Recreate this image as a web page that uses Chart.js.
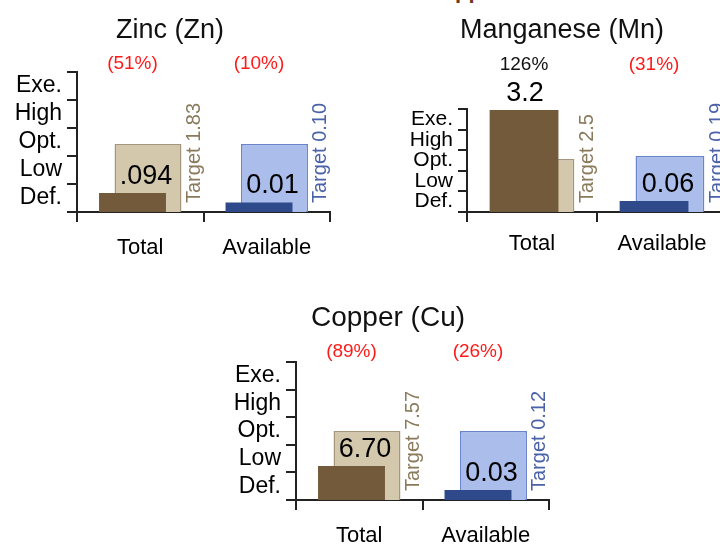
<!DOCTYPE html>
<html>
<head>
<meta charset="utf-8">
<script src="https://cdn.jsdelivr.net/npm/chart.js@4.4.1/dist/chart.umd.min.js"></script>
<style>
  html, body { margin: 0; padding: 0; background: #fff; }
  body { width: 720px; height: 544px; position: relative; overflow: hidden; }
  canvas { position: absolute; }
  .cut { position: absolute; left: 455px; top: -22px; font: bold 22px "Liberation Sans", Arial, sans-serif; color: #6e3a1c; }
</style>
</head>
<body>
<div class="cut">pp</div>
<canvas id="zn" width="360" height="270" style="left:0px;top:0px"></canvas>
<canvas id="mn" width="380" height="270" style="left:360px;top:0px"></canvas>
<canvas id="cu" width="360" height="254" style="left:200px;top:290px"></canvas>
<script>
// levels on the y axis (top to bottom) and the two x categories
const levels = ["Exe.", "High", "Opt.", "Low", "Def."];
const categories = ["Total", "Available"];

// bar heights in level units (0 = bottom of Def., 5 = top of Exe.)
const znMeasured = [0.68, 0.34];
const znTarget = [2.43, 2.43];
const znValues = [".094", "0.01"];
const znTargets = ["1.83", "0.10"];
const znPct = [51, 10];

const mnMeasured = [4.95, 0.53];
const mnTarget = [2.57, 2.72];
const mnValues = ["3.2", "0.06"];
const mnTargets = ["2.5", "0.19"];
const mnPct = [126, 31];

const cuMeasured = [1.23, 0.36];
const cuTarget = [2.5, 2.5];
const cuValues = ["6.70", "0.03"];
const cuTargets = ["7.57", "0.12"];
const cuPct = [89, 26];

const FONT = '"Liberation Sans", Arial, sans-serif';
Chart.defaults.font.family = FONT;

const annotate = {
  id: "annotate",
  afterDraw(chart, args, opts) {
    const ctx = chart.ctx;
    const bottom = chart.chartArea.bottom;
    const meas = chart.getDatasetMeta(0).data;
    const targ = chart.getDatasetMeta(1).data;
    ctx.save();
    ctx.textAlign = "center";
    ctx.textBaseline = "alphabetic";
    ctx.fillStyle = "#111";
    ctx.font = opts.titleSize + "px " + FONT;
    ctx.fillText(opts.title, opts.titleX, opts.titleY);
    meas.forEach((bar, i) => {
      const t = targ[i];
      const p = opts.pct[i];
      ctx.font = "19px " + FONT;
      ctx.fillStyle = p < 100 ? "#ff1a1a" : "#111";
      ctx.fillText(p < 100 ? "(" + p + "%)" : p + "%", bar.x, opts.pctY);

      ctx.font = "27px " + FONT;
      ctx.fillStyle = "#000";
      const vx = bar.y < t.y ? bar.x + 1 : t.x - 2;
      ctx.fillText(opts.values[i], vx, bar.y - 9);

      ctx.save();
      ctx.translate(t.x + t.width / 2 + 13, bottom - 9);
      ctx.rotate(-Math.PI / 2);
      ctx.textAlign = "left";
      ctx.textBaseline = "middle";
      ctx.font = "20px " + FONT;
      ctx.fillStyle = i === 0 ? "#8a7a5c" : "#4b62a9";
      ctx.fillText("Target " + opts.targets[i], 0, 0);
      ctx.restore();
    });
    ctx.restore();
  }
};

function makeChart(id, measured, target, values, targets, pct, st) {
  return new Chart(document.getElementById(id), {
    type: "bar",
    data: {
      labels: categories,
      datasets: [
        {
          label: "Measured",
          data: measured,
          backgroundColor: ["#735a3a", "#2f4a8a"],
          borderWidth: 0,
          categoryPercentage: 0.245,
          barPercentage: 4.32,
        },
        {
          label: "Target",
          data: target,
          backgroundColor: ["#d3c8ab", "#aabdeb"],
          borderColor: ["#a5957a", "#6a84cc"],
          borderWidth: 1.5,
          categoryPercentage: 0.245,
          barPercentage: 4.32,
        },
      ],
    },
    options: {
      responsive: false,
      animation: false,
      layout: { padding: st.pad },
      plugins: {
        legend: { display: false },
        tooltip: { enabled: false },
        annotate: {
          title: st.title, titleSize: st.titleSize, titleX: st.titleX, titleY: st.titleY,
          pctY: st.pctY, values: values, targets: targets, pct: pct,
        },
      },
      scales: {
        x: {
          type: "category",
          offset: true,
          grid: { offset: true, drawOnChartArea: false, tickLength: 10, color: "#222", lineWidth: 2 },
          border: { color: "#222", width: 2 },
          ticks: { font: { size: 22 }, color: "#000", padding: st.xPad, maxRotation: 0, autoSkip: false },
          afterFit: (s) => { s.height = st.xHeight; },
        },
        y: { type: "linear", min: 0, max: 5, display: false },
        yLev: {
          type: "category",
          labels: levels,
          position: "left",
          offset: true,
          grid: { offset: true, drawOnChartArea: false, tickLength: st.tickLen, color: "#222", lineWidth: 2 },
          border: { color: "#222", width: 2 },
          ticks: { font: { size: st.levelFont }, color: "#000", padding: 5, autoSkip: false },
          afterFit: (s) => { s.width = 70; },
        },
      },
    },
    plugins: [annotate],
  });
}

makeChart("zn", znMeasured, znTarget, znValues, znTargets, znPct, {
  pad: { left: 7, top: 72, right: 30, bottom: 8 }, xHeight: 50,
  title: "Zinc (Zn)", titleSize: 27, titleX: 170, titleY: 38, pctY: 69,
  levelFont: 23, tickLen: 10, xPad: 13,
});

makeChart("mn", mnMeasured, mnTarget, mnValues, mnTargets, mnPct, {
  pad: { left: 37, top: 109, right: 13, bottom: 8 }, xHeight: 50,
  title: "Manganese (Mn)", titleSize: 27, titleX: 202, titleY: 37.5, pctY: 70,
  levelFont: 21, tickLen: 9, xPad: 9,
});

makeChart("cu", cuMeasured, cuTarget, cuValues, cuTargets, cuPct, {
  pad: { left: 26, top: 72, right: 11, bottom: 0 }, xHeight: 44,
  title: "Copper (Cu)", titleSize: 28, titleX: 188, titleY: 35.7, pctY: 67,
  levelFont: 23, tickLen: 10, xPad: 13,
});
</script>
</body>
</html>
